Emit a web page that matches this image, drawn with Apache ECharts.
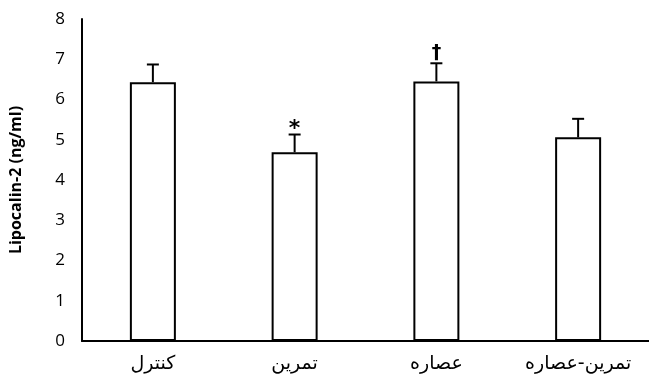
<!DOCTYPE html>
<html>
<head>
<meta charset="utf-8">
<script src="https://cdn.jsdelivr.net/npm/echarts@6/dist/echarts.min.js"></script>
<style>
  html, body { margin: 0; padding: 0; background: #fff; }
  #chart { width: 649px; height: 381px; }
</style>
</head>
<body>
<div id="chart"></div>
<script>
// Groups and Lipocalin-2 means with their error bars
const categories = ['کنترل', 'تمرین', 'عصاره', 'تمرین-عصاره'];
const means = [6.43, 4.69, 6.45, 5.06];
const errors = [0.44, 0.44, 0.45, 0.46];
const marks = ['', '*', '†', ''];
const yTicks = [0, 1, 2, 3, 4, 5, 6, 7, 8];

const chart = echarts.init(document.getElementById('chart'));

const errorData = means.map((m, i) => [i, m, m + errors[i]]);
const markData = means.map((m, i) => [i, m + errors[i], marks[i]]);

chart.setOption({
  animation: false,
  grid: { left: 82, right: -7, top: 19, bottom: 40, containLabel: false },
  xAxis: {
    type: 'category',
    data: categories,
    z: 10,
    axisLine: { lineStyle: { color: '#000', width: 2 } },
    axisTick: { show: false },
    axisLabel: { color: '#000', fontSize: 19, margin: 14, fontFamily: 'DejaVu Sans, sans-serif' }
  },
  yAxis: {
    type: 'value',
    min: yTicks[0],
    max: yTicks[yTicks.length - 1],
    interval: 1,
    z: 10,
    name: 'Lipocalin-2 (ng/ml)',
    nameLocation: 'middle',
    nameGap: 58,
    nameTextStyle: { color: '#000', fontSize: 16, fontWeight: 'bold', fontFamily: 'Open Sans, sans-serif' },
    axisLine: { show: true, lineStyle: { color: '#000', width: 2 } },
    axisTick: { show: false },
    splitLine: { show: false },
    axisLabel: { color: '#000', fontSize: 17, margin: 17, fontFamily: 'Open Sans, sans-serif' }
  },
  series: [
    {
      type: 'bar',
      data: means,
      barWidth: 46,
      itemStyle: { color: '#fff', borderColor: '#000', borderWidth: 2 },
      z: 2
    },
    {
      type: 'custom',
      data: errorData,
      z: 3,
      renderItem: function (params, api) {
        const base = api.coord([api.value(0), api.value(1)]);
        const top = api.coord([api.value(0), api.value(2)]);
        const half = 6;
        const style = { stroke: '#000', lineWidth: 2 };
        return {
          type: 'group',
          children: [
            { type: 'line', shape: { x1: top[0], y1: base[1], x2: top[0], y2: top[1] }, style: style },
            { type: 'line', shape: { x1: top[0] - half, y1: top[1], x2: top[0] + half, y2: top[1] }, style: style }
          ]
        };
      }
    },
    {
      type: 'custom',
      data: markData,
      z: 4,
      renderItem: function (params, api) {
        const p = api.coord([api.value(0), api.value(1)]);
        const txt = marks[params.dataIndex];
        if (!txt) return null;
        const isStar = txt === '*';
        return {
          type: 'text',
          style: {
            text: txt,
            x: p[0],
            y: isStar ? p[1] + 6 : p[1] - 1,
            textAlign: 'center',
            textVerticalAlign: 'bottom',
            fill: '#000',
            font: 'bold ' + (isStar ? '22px' : '19px') + ' "DejaVu Sans", sans-serif'
          }
        };
      }
    }
  ]
});
</script>
</body>
</html>
